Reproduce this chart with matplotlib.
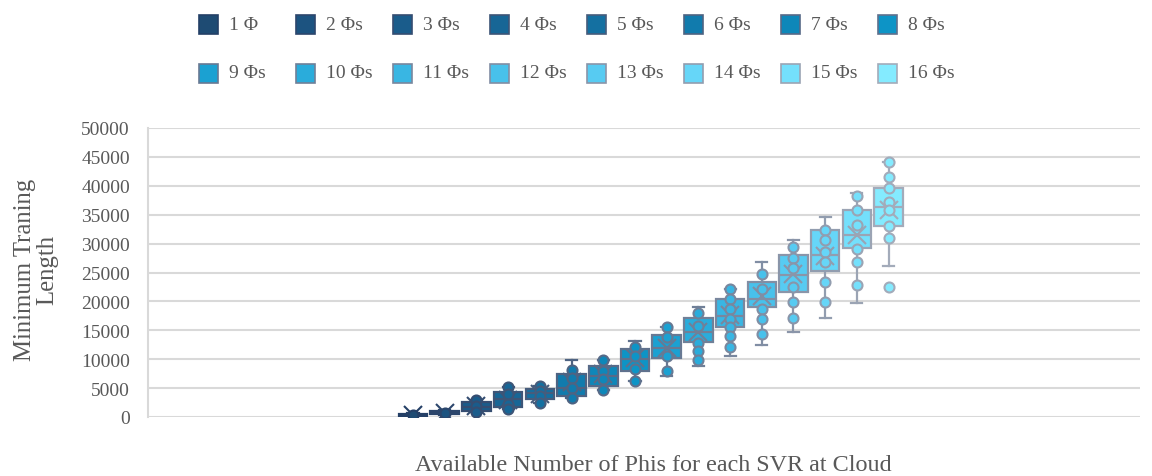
import matplotlib
matplotlib.use("Agg")
import matplotlib.pyplot as plt
import numpy as np
from matplotlib.patches import Rectangle
from matplotlib.colors import to_rgb, to_hex

# ---------------- data ----------------
series_labels = ["1 Φ", "2 Φs", "3 Φs", "4 Φs", "5 Φs", "6 Φs", "7 Φs", "8 Φs",
                 "9 Φs", "10 Φs", "11 Φs", "12 Φs", "13 Φs", "14 Φs", "15 Φs", "16 Φs"]
whislo_vals = [150, 400, 810, 1380, 2420, 3230, 4720, 6280,
               7100, 8880, 10610, 12460, 14650, 17080, 19670, 26180]
q1_vals = [250, 520, 990, 1680, 3110, 3690, 5310, 8010,
           10150, 12920, 15520, 18980, 21570, 25310, 29180, 33100]
median_vals = [380, 720, 1680, 3110, 4150, 5100, 7040, 10030,
               12000, 14650, 17530, 20410, 24570, 28030, 31490, 36280]
q3_vals = [520, 1050, 2540, 4270, 4840, 7440, 8880, 11760,
           14240, 17130, 20410, 23410, 28030, 32400, 35810, 39620]
whishi_vals = [620, 1150, 2900, 5130, 5420, 9910, 9910, 13200,
               15520, 18980, 22140, 26760, 30620, 34550, 38750, 44170]
mean_vals = [400, 750, 1960, 3000, 4000, 6000, 7400, 10200,
             12000, 14700, 17600, 21000, 24800, 27800, 31500, 35800]
point_vals = [
    [400],
    [700],
    [2900, 1900, 810],
    [5130, 4000, 2300, 1380],
    [5420, 4500, 3600, 2420],
    [8180, 6700, 5000, 3230],
    [9910, 8000, 6500, 4720],
    [12060, 10500, 8300, 6280],
    [15520, 13790, 10610, 8010],
    [17990, 15690, 12800, 11470, 9910],
    [22140, 20410, 18680, 16950, 15520, 13960, 12060],
    [24740, 22140, 18680, 16950, 14360],
    [29360, 27450, 25730, 22440, 19950, 17080],
    [32400, 30620, 28490, 26760, 23300, 19840],
    [38180, 35810, 33220, 29060, 26870, 22890],
    [44170, 41570, 39620, 37250, 35810, 32990, 30910, 22440],
]
y_ticks = [0, 5000, 10000, 15000, 20000, 25000, 30000, 35000, 40000, 45000, 50000]

# ---------------- styles ----------------
fill_colors = ["#1E4B73", "#1C5380", "#1A5C8B", "#176696", "#1470A1", "#117BAD", "#0E87B9", "#0D94C6",
               "#1BA1D2", "#2AACDB", "#39B6E3", "#48C1EB", "#57CBF2", "#66D6F8", "#74E0FC", "#84EBFF"]
e0 = np.array(to_rgb("#243F66"))
e1 = np.array(to_rgb("#A3ABBA"))
edge_colors = [to_hex(e0 + (e1 - e0) * (i / 15)) for i in range(16)]

plt.rcParams['font.family'] = ['Liberation Serif', 'DejaVu Serif']
W, H = 1152, 477
fig = plt.figure(figsize=(W / 100, H / 100), dpi=100)
ax_l, ax_r, ax_b, ax_t = 148, 1140, 418, 129
ax = fig.add_axes([ax_l / W, 1 - ax_b / H, (ax_r - ax_l) / W, (ax_b - ax_t) / H])

positions = np.arange(1, 17)
for i in range(16):
    st = dict(med=median_vals[i], q1=q1_vals[i], q3=q3_vals[i],
              whislo=whislo_vals[i], whishi=whishi_vals[i], mean=mean_vals[i], fliers=[])
    fc, ec = fill_colors[i], edge_colors[i]
    ax.bxp([st], positions=[positions[i]], widths=0.9, patch_artist=True,
           showmeans=True, showfliers=False, capwidths=0.35,
           boxprops=dict(facecolor=fc, edgecolor=ec, linewidth=1.6),
           medianprops=dict(color=ec, linewidth=1.6),
           whiskerprops=dict(color=ec, linewidth=1.6),
           capprops=dict(color=ec, linewidth=1.6),
           meanprops=dict(marker='x', markersize=13, markeredgecolor=ec,
                          markeredgewidth=1.5, markerfacecolor='none'),
           zorder=3)
    ax.scatter(np.full(len(point_vals[i]), positions[i]), point_vals[i], s=52,
               facecolor=fc, edgecolor=ec, linewidth=1.5, zorder=4)

ax.set_xlim(-7.36, 23.93)
ax.set_ylim(0, 50000)
ax.set_yticks(y_ticks)
ax.set_yticklabels([str(v) for v in y_ticks], fontsize=14, color='#595959')
ax.set_xticks([])
ax.tick_params(axis='y', length=0, pad=13)
ax.yaxis.grid(True, color='#D9D9D9', linewidth=1.5)
ax.set_axisbelow(True)
for s in ['top', 'right', 'bottom']:
    ax.spines[s].set_visible(False)
ax.spines['left'].set_color('#D9D9D9')
ax.spines['left'].set_linewidth(1.5)

fig.text(653 / W, 1 - 466 / H, "Available Number of Phis for each SVR at Cloud",
         fontsize=17.4, color='#595959', ha='center', va='center')
fig.text(36 / W, 1 - 270 / H, "Minimum Traning\nLength", fontsize=17.8, color='#595959',
         ha='center', va='center', rotation=90, linespacing=1.0, multialignment='center')

# legend drawn manually in figure pixels
sq = 19
for i in range(16):
    col, row = i % 8, i // 8
    x0 = 199 + col * 97
    yc = 25 + row * 49
    fig.patches.append(Rectangle((x0 / W, 1 - (yc + sq / 2) / H), sq / W, sq / H,
                                 transform=fig.transFigure, facecolor=fill_colors[i],
                                 edgecolor=edge_colors[i], linewidth=1.2))
    fig.text((x0 + sq + 11) / W, 1 - yc / H, series_labels[i], fontsize=14,
             color='#595959', ha='left', va='center')

fig.savefig("out.png", dpi=100)
